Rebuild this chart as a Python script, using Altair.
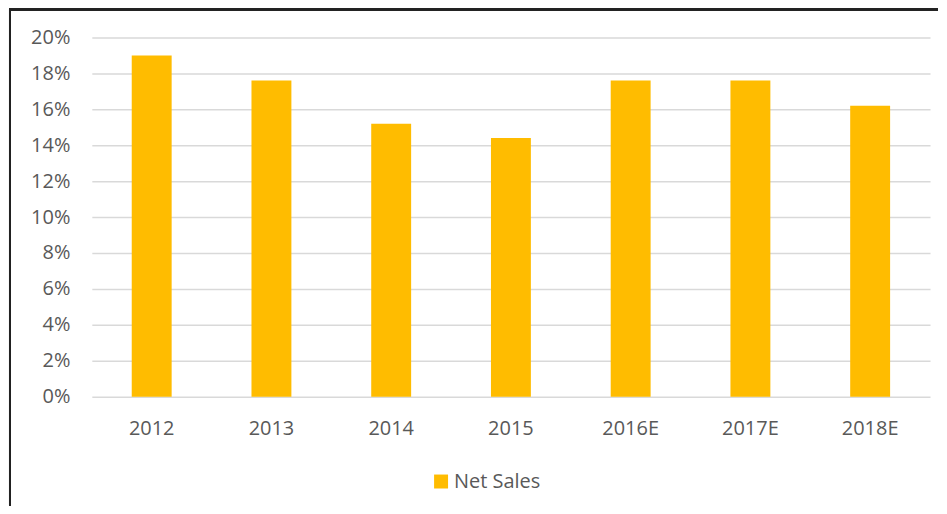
import altair as alt
import pandas as pd

years = ["2012", "2013", "2014", "2015", "2016E", "2017E", "2018E"]
net_sales = [0.190, 0.176, 0.152, 0.144, 0.176, 0.176, 0.162]
series = ["Net Sales"] * len(years)
y_ticks = [0, 0.02, 0.04, 0.06, 0.08, 0.10, 0.12, 0.14, 0.16, 0.18, 0.20]

df = pd.DataFrame({"year": years, "value": net_sales, "series": series})

FONT = "Open Sans"
GRAY = "#595959"

bars = alt.Chart(df).mark_bar(size=40).encode(
    x=alt.X("year:N", sort=years, title=None,
            scale=alt.Scale(paddingInner=0, paddingOuter=0),
            axis=alt.Axis(labelAngle=0, domain=False, ticks=False,
                          labelPadding=22, labelFontSize=20, labelFont=FONT,
                          labelColor=GRAY)),
    y=alt.Y("value:Q", title=None,
            scale=alt.Scale(domain=[0, 0.2], nice=False),
            axis=alt.Axis(values=y_ticks, format=".0%", domain=False, ticks=False,
                          labelPadding=22, labelFontSize=20, labelFont=FONT,
                          labelColor=GRAY, gridColor="#d9d9d9", gridWidth=1.5)),
    color=alt.Color("series:N", title=None,
                    scale=alt.Scale(range=["#FFBC00"]),
                    legend=alt.Legend(orient="none", legendX=340, legendY=435,
                                      symbolType="square", symbolSize=196,
                                      symbolStrokeWidth=0, labelFontSize=20,
                                      labelFont=FONT, labelColor=GRAY,
                                      labelOffset=3)),
)

border_left = alt.Chart(df).mark_rule(color="#222222", strokeWidth=2).encode(
    x=alt.value(-82), y=alt.value(-28), y2=alt.value(469)
)
border_top = alt.Chart(df).mark_rule(color="#222222", strokeWidth=2).encode(
    x=alt.value(-83), x2=alt.value(848), y=alt.value(-28)
)

chart = alt.layer(bars, border_left, border_top).properties(
    width=840, height=360, padding=0
).configure_view(stroke=None)

chart.save("out.html", embed_options={"renderer": "svg", "actions": False})
